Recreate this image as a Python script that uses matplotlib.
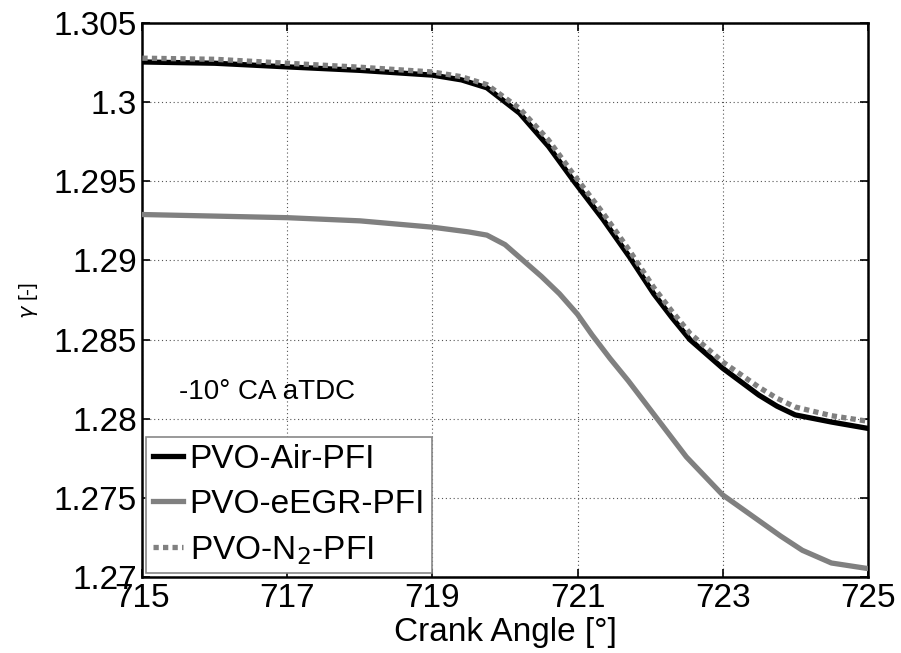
import matplotlib
matplotlib.use("Agg")
import matplotlib.pyplot as plt

plt.rcParams['font.family'] = ['Liberation Sans', 'DejaVu Sans']

# crank angle / gamma readings for each case
x_air = [715, 716, 717, 718, 719, 719.4, 719.75, 720.2, 720.6, 720.95, 721.35,
         721.72, 722.05, 722.3, 722.55, 723.0, 723.5, 723.75, 724.0, 724.5, 725]
g_air = [1.30253, 1.30245, 1.30222, 1.3020, 1.3017, 1.3014, 1.3009, 1.2993,
         1.2972, 1.2950, 1.2926, 1.2902, 1.2879, 1.2864, 1.2850, 1.2832,
         1.2815, 1.2808, 1.28025, 1.2798, 1.2794]

x_n2 = x_air
g_n2 = [1.30277, 1.3027, 1.30245, 1.3022, 1.3019, 1.3016, 1.3011, 1.2996,
        1.2976, 1.2954, 1.2930, 1.2906, 1.2883, 1.2868, 1.2854, 1.2836,
        1.2820, 1.2813, 1.28075, 1.2802, 1.27985]

x_egr = [715, 716, 717, 718, 719, 719.5, 719.75, 720.0, 720.25, 720.5, 720.75,
         721.0, 721.2, 721.45, 721.7, 722.1, 722.5, 723.0, 723.4, 723.8,
         724.1, 724.5, 725]
g_egr = [1.2929, 1.2928, 1.2927, 1.2925, 1.2921, 1.2918, 1.2916, 1.2910,
         1.2900, 1.2890, 1.2879, 1.2866, 1.2853, 1.2838, 1.2824, 1.2800,
         1.2776, 1.2752, 1.2739, 1.2726, 1.2717, 1.2709, 1.27055]

labels = ['PVO-Air-PFI', 'PVO-eEGR-PFI', 'PVO-N$_2$-PFI']
xticks = [715, 717, 719, 721, 723, 725]
yticks = [1.27, 1.275, 1.28, 1.285, 1.29, 1.295, 1.3, 1.305]
ytick_labels = ['1.27', '1.275', '1.28', '1.285', '1.29', '1.295', '1.3', '1.305']

fig = plt.figure(figsize=(9.01, 6.53), dpi=100)
ax = fig.add_axes([0.158, 0.116, 0.805, 0.849])

ax.plot(x_air, g_air, color='black', lw=3.8, label=labels[0], zorder=3)
ax.plot(x_egr, g_egr, color='#808080', lw=3.8, label=labels[1], zorder=3)
ax.plot(x_n2, g_n2, color='#808080', lw=3.8, ls=(0, (1, 0.8)),
        label=labels[2], zorder=4)

ax.set_xlim(715, 725)
ax.set_ylim(1.27, 1.305)
ax.set_xticks(xticks)
ax.set_yticks(yticks)
ax.set_yticklabels(ytick_labels)
ax.tick_params(direction='in', length=6, width=1.2, labelsize=24,
               top=True, right=True, pad=4)
ax.grid(True, color='#555555', ls=(0, (1, 2.5)), lw=0.8)
for s in ax.spines.values():
    s.set_linewidth(1.8)

ax.set_xlabel('Crank Angle [°]', fontsize=24, labelpad=2)
ax.set_ylabel('$\\gamma$ [-]', fontsize=15, labelpad=10)

ax.text(0.05, 0.334, '-10° CA aTDC', transform=ax.transAxes,
        fontsize=20, va='center', ha='left')

leg = ax.legend(loc='lower left', bbox_to_anchor=(0.0, 0.0), fontsize=24,
                handlelength=0.9, handletextpad=0.2, borderpad=0.2,
                labelspacing=0.42, borderaxespad=0.12, fancybox=False,
                framealpha=1)
leg.get_frame().set_edgecolor('#888888')
leg.get_frame().set_linewidth(1.2)

fig.savefig('out.png', dpi=100)
